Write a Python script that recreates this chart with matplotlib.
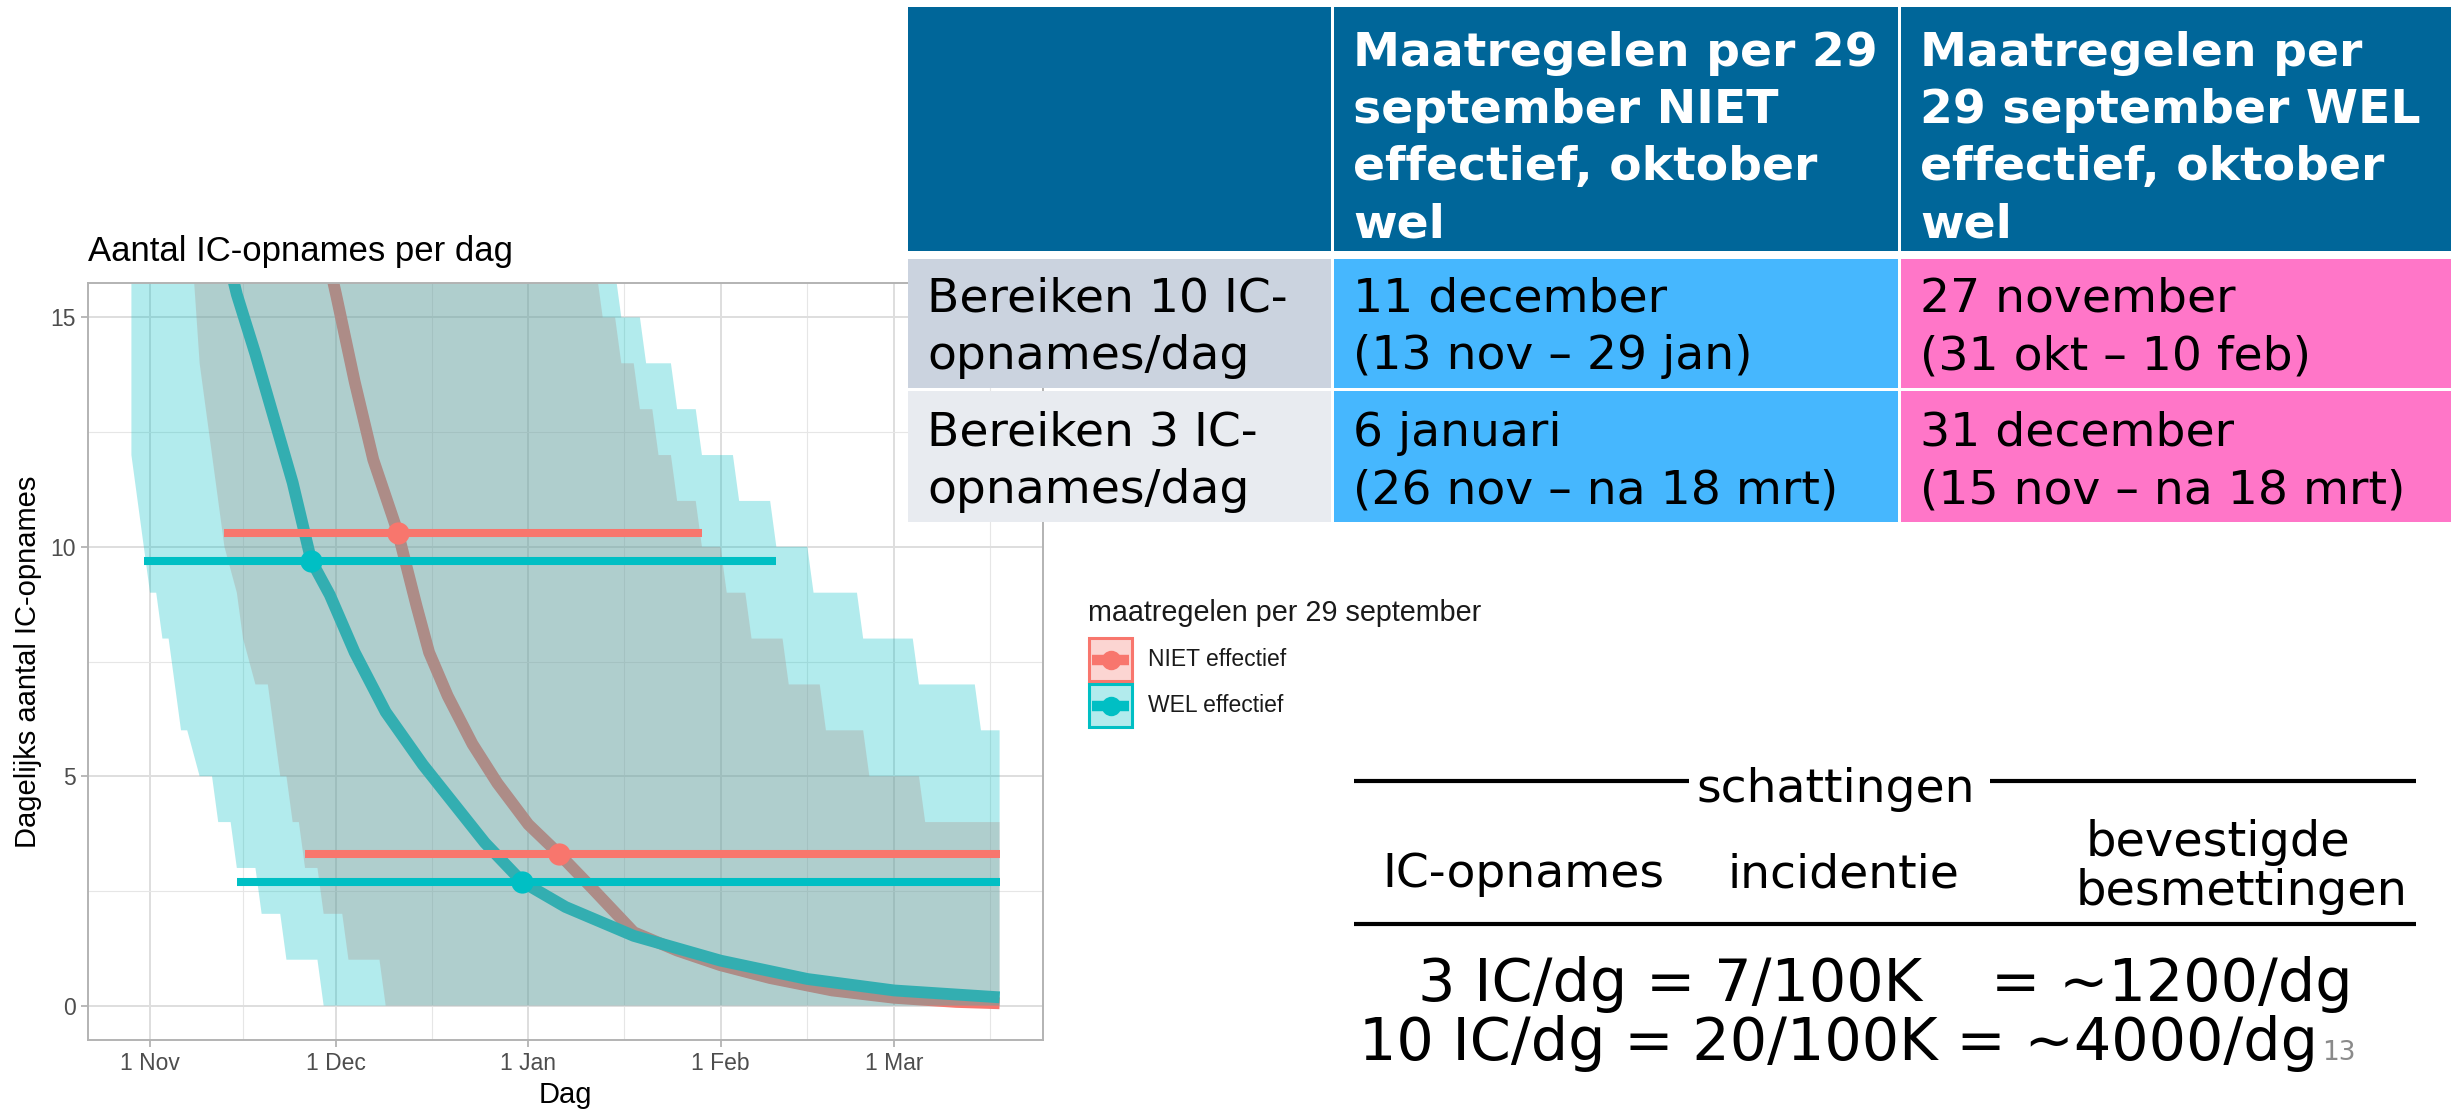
import matplotlib
matplotlib.use("Agg")
import matplotlib.pyplot as plt
import matplotlib.dates as mdates
from matplotlib.patches import Rectangle
from matplotlib.ticker import FixedLocator
import numpy as np

plt.rcParams.update({
    "font.family": "Liberation Sans",
    "axes.unicode_minus": False,
})

W, H = 2463, 1111
RED = "#F8766D"
TEAL = "#00BFC4"

# all curve / ribbon x values are days after 1 Nov 2020
start = np.datetime64("2020-11-01")

# central estimate, IC admissions per day
niet_day = [28, 30, 33, 36, 40, 43, 45, 48, 52, 56, 61, 66, 71, 78, 85, 92, 100, 110, 120, 130, 137]
niet_val = [16.7, 15.5, 13.6, 11.9, 10.3, 8.7, 7.7, 6.75, 5.7, 4.85, 3.95, 3.3, 2.6, 1.6, 1.2, 0.88, 0.6, 0.33, 0.17, 0.08, 0.05]
wel_day = [12, 14, 17, 20, 23, 26, 29, 33, 38, 44, 49, 54, 60, 67, 78, 92, 106, 120, 137]
wel_val = [16.6, 15.5, 14.2, 12.8, 11.4, 9.7, 8.95, 7.7, 6.4, 5.25, 4.4, 3.55, 2.7, 2.15, 1.52, 0.98, 0.58, 0.33, 0.18]

# uncertainty bands (stepped, integer quantiles)
niet_hi_day = [-3, 72, 73, 75, 76, 78, 79, 81, 82, 84, 85, 88, 89, 92, 93, 96, 97, 102, 103, 108, 109, 115, 116, 124, 125, 137]
niet_hi_val = [16, 16, 15, 15, 14, 14, 13, 13, 12, 12, 11, 11, 10, 10, 9, 9, 8, 8, 7, 7, 6, 6, 5, 5, 4, 4]
niet_lo_day = [-3, 7, 8, 9, 10, 11, 12, 14, 15, 17, 19, 20, 21, 22, 23, 24, 25, 27, 28, 31, 32, 37, 38, 137]
niet_lo_val = [16, 16, 14, 13, 12, 11, 10, 9, 8, 7, 7, 6, 5, 5, 4, 4, 3, 3, 2, 2, 1, 1, 0, 0]
wel_hi_day = [-3, 75, 76, 79, 80, 84, 85, 88, 89, 94, 95, 100, 101, 106, 107, 114, 115, 123, 124, 133, 134, 137]
wel_hi_val = [16, 16, 15, 15, 14, 14, 13, 13, 12, 12, 11, 11, 10, 10, 9, 9, 8, 8, 7, 7, 6, 6]
wel_lo_day = [-3, -1, 0, 1, 2, 3, 4, 5, 6, 8, 10, 11, 13, 14, 17, 18, 21, 22, 27, 28, 137]
wel_lo_val = [12, 10, 9, 9, 8, 8, 7, 6, 6, 5, 5, 4, 4, 3, 3, 2, 2, 1, 1, 0, 0]

# horizontal intervals: reaching 10 and 3 IC admissions per day
bar_color = [RED, TEAL, RED, TEAL]
bar_y = [10.3, 9.7, 3.3, 2.7]
bar_mid = ["2020-12-11", "2020-11-27", "2021-01-06", "2020-12-31"]
bar_lo = ["2020-11-13", "2020-10-31", "2020-11-26", "2020-11-15"]
bar_hi = ["2021-01-29", "2021-02-10", "2021-03-18", "2021-03-18"]

month_ticks = ["2020-11-01", "2020-12-01", "2021-01-01", "2021-02-01", "2021-03-01", "2021-04-01"]
month_labels = ["1 Nov", "1 Dec", "1 Jan", "1 Feb", "1 Mar"]

# table
header_text = ["",
               "Maatregelen per 29\nseptember NIET\neffectief, oktober\nwel",
               "Maatregelen per\n29 september WEL\neffectief, oktober\nwel"]
row1_text = ["Bereiken 10 IC-\nopnames/dag", "11 december\n(13 nov \u2013 29 jan)", "27 november\n(31 okt \u2013 10 feb)"]
row2_text = ["Bereiken 3 IC-\nopnames/dag", "6 januari\n(26 nov \u2013 na 18 mrt)", "31 december\n(15 nov \u2013 na 18 mrt)"]

# estimates block
est_line1 = ["3 IC/dg = 7/100K", "= ~1200/dg"]
est_line2 = "10 IC/dg = 20/100K = ~4000/dg"


def days_to_num(days):
    return mdates.date2num(start + np.array(days, dtype="timedelta64[D]"))


def str_to_num(dates):
    return mdates.date2num(np.array(dates, dtype="datetime64[D]"))


fig = plt.figure(figsize=(W / 100, H / 100), dpi=100)
fig.patch.set_facecolor("white")

# ---- chart panel ----
px_l, px_r, px_t, px_b = 88, 1043, 283, 1040
ax = fig.add_axes([px_l / W, 1 - px_b / H, (px_r - px_l) / W, (px_b - px_t) / H])

ax.plot(days_to_num(niet_day), niet_val, color=RED, lw=8.5, zorder=1,
        solid_joinstyle="round", solid_capstyle="butt")
ax.plot(days_to_num(wel_day), wel_val, color=TEAL, lw=8.5, zorder=1.1,
        solid_joinstyle="round", solid_capstyle="butt")

for hd, hv, ld, lv, col, z in [
    (niet_hi_day, niet_hi_val, niet_lo_day, niet_lo_val, RED, 2),
    (wel_hi_day, wel_hi_val, wel_lo_day, wel_lo_val, TEAL, 2.1),
]:
    xs = np.r_[days_to_num(hd), days_to_num(ld)[::-1]]
    ys = np.r_[hv, lv[::-1]]
    ax.fill(xs, ys, color=col, alpha=0.3, lw=0, zorder=z)

for col, y, mid, lo, hi in zip(bar_color, bar_y, bar_mid, bar_lo, bar_hi):
    ax.hlines(y, str_to_num([lo])[0], str_to_num([hi])[0], color=col, lw=5.8, zorder=3)
    ax.plot(str_to_num([mid]), [y], "o", color=col, ms=16, mec="none", zorder=4)

ax.set_xlim(str_to_num(["2020-10-22"])[0], str_to_num(["2021-03-25"])[0])
ax.set_ylim(-0.75, 15.75)

mt = str_to_num(month_ticks)
ax.set_xticks(mt[:-1])
ax.set_xticklabels(month_labels)
ax.xaxis.set_minor_locator(FixedLocator((mt[:-1] + mt[1:]) / 2))
ax.set_yticks([0, 5, 10, 15])
ax.yaxis.set_minor_locator(FixedLocator([2.5, 7.5, 12.5]))

ax.set_axisbelow(True)
ax.grid(which="major", color="#DEDEDE", lw=1.4)
ax.grid(which="minor", color="#E6E6E6", lw=0.8)
for s in ax.spines.values():
    s.set_color("#B3B3B3")
    s.set_linewidth(1.4)
ax.tick_params(which="major", length=5, width=1.3, color="#B3B3B3",
               labelsize=16.5, labelcolor="#4D4D4D", pad=4)
ax.tick_params(which="minor", length=0)

ax.set_title("Aantal IC-opnames per dag", loc="left", fontsize=25, pad=16)
ax.set_xlabel("Dag", fontsize=21, labelpad=4)
ax.set_ylabel("Dagelijks aantal IC-opnames", fontsize=21, labelpad=6)

# ---- overlay in pixel coordinates: legend, table, text ----
ov = fig.add_axes([0, 0, 1, 1], zorder=5)
ov.set_xlim(0, W)
ov.set_ylim(H, 0)
ov.axis("off")

# legend
ov.text(1088, 621, "maatregelen per 29 september", fontsize=20.7, color="#1A1A1A", va="baseline")
for i, (col, lab) in enumerate([(RED, "NIET effectief"), (TEAL, "WEL effectief")]):
    top = 638 + i * 46
    ov.add_patch(Rectangle((1089, top), 43, 43, facecolor=col, alpha=0.3, lw=0))
    ov.add_patch(Rectangle((1089, top), 43, 43, facecolor="none", edgecolor=col, lw=2.2))
    cy = top + 21.5
    ov.plot([1092, 1129], [cy, cy], color=col, lw=7.5, solid_capstyle="butt")
    ov.plot([1110.5], [cy], "o", color=col, ms=14, mec="none")
    ov.text(1148, cy, lab, fontsize=16.5, color="#1A1A1A", va="center")

# table
col_l = [908, 1334, 1901]
col_r = [1331, 1898, 2451]
row_t = [7, 259, 391]
row_b = [251, 388, 522]
row_fill = [["#006699"] * 3,
            ["#CBD3DF", "#46B7FE", "#FF76C8"],
            ["#E8EBF0", "#46B7FE", "#FF76C8"]]
row_base = [66, 312, 446]
for r, texts in enumerate([header_text, row1_text, row2_text]):
    for c in range(3):
        ov.add_patch(Rectangle((col_l[c], row_t[r]), col_r[c] - col_l[c], row_b[r] - row_t[r],
                               facecolor=row_fill[r][c], lw=0))
        for k, line in enumerate(texts[c].split("\n")):
            ov.text(col_l[c] + 19, row_base[r] + k * 57, line, family="DejaVu Sans",
                    fontsize=34, va="baseline", ha="left",
                    color="white" if r == 0 else "black",
                    fontweight="bold" if r == 0 else "normal")

# estimates block
ov.plot([1354, 1689], [781, 781], color="black", lw=3, solid_capstyle="butt")
ov.plot([1990, 2416], [781, 781], color="black", lw=3, solid_capstyle="butt")
ov.plot([1354, 2416], [924, 924], color="black", lw=3, solid_capstyle="butt")
tf = dict(family="DejaVu Sans", va="baseline", color="black")
ov.text(1836, 802, "schattingen", fontsize=34, ha="center", **tf)
ov.text(1382, 887, "IC-opnames", fontsize=34, ha="left", **tf)
ov.text(1727, 887, "incidentie", fontsize=34, ha="left", **tf)
ov.text(2086, 856, "bevestigde", fontsize=34.5, ha="left", **tf)
ov.text(2076, 905, "besmettingen", fontsize=34.5, ha="left", **tf)
ov.text(1418, 1001, est_line1[0], fontsize=42.4, ha="left", **tf)
ov.text(2353, 1001, est_line1[1], fontsize=42.4, ha="right", **tf)
ov.text(1359, 1060, est_line2, fontsize=42.4, ha="left", **tf)
ov.text(2322, 1060, "13", family="DejaVu Sans", fontsize=19, color="#8A8A8A", va="baseline")

fig.savefig("out.png", dpi=100)
